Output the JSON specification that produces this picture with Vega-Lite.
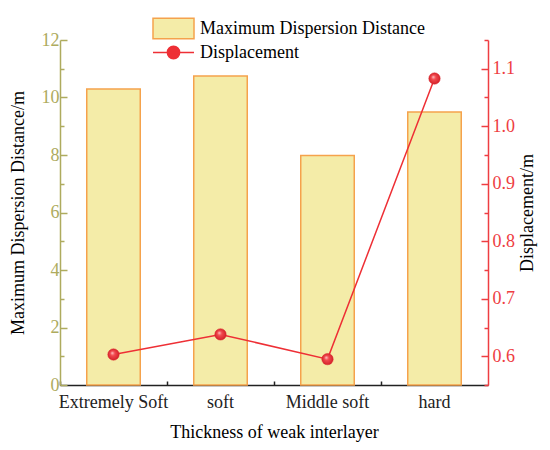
{
  "$schema": "https://vega.github.io/schema/vega-lite/v6.json",
  "width": 428,
  "height": 345,
  "autosize": "none",
  "padding": {"left": 60, "top": 40, "right": 62, "bottom": 65},
  "background": "white",
  "data": {
    "values": [
      {"thickness": "Extremely Soft", "distance": 10.3, "displacement": 0.603},
      {"thickness": "soft", "distance": 10.75, "displacement": 0.638},
      {"thickness": "Middle soft", "distance": 7.98, "displacement": 0.595},
      {"thickness": "hard", "distance": 9.5, "displacement": 1.083}
    ]
  },
  "layer": [
    {
      "mark": {"type": "bar", "width": {"band": 0.5}, "stroke": "#f5a24c", "strokeWidth": 1.5},
      "encoding": {
        "x": {
          "field": "thickness",
          "type": "nominal",
          "sort": null,
          "scale": {"paddingInner": 0, "paddingOuter": 0},
          "axis": {
            "orient": "bottom",
            "title": "Thickness of weak interlayer",
            "titlePadding": 12,
            "labelAngle": 0,
            "bandPosition": 0.5,
            "tickSize": -7,
            "labelPadding": 15,
            "domainColor": "#222222",
            "domainWidth": 1.5,
            "tickColor": "#222222",
            "tickWidth": 1.5
          }
        },
        "y": {
          "field": "distance",
          "type": "quantitative",
          "scale": {"domain": [0, 12], "nice": false},
          "axis": {
            "title": "Maximum Dispersion Distance/m",
            "values": [0, 1, 2, 3, 4, 5, 6, 7, 8, 9, 10, 11, 12],
            "labelExpr": "datum.value % 2 == 0 ? datum.label : ''",
            "tickSize": {"condition": {"test": "datum.value % 2 == 1", "value": -4}, "value": -7},
            "labelPadding": 8,
            "domainColor": "#aeab5e",
            "domainWidth": 1.5,
            "tickColor": "#aeab5e",
            "tickWidth": 1.5,
            "labelColor": "#aeab5e",
            "titlePadding": 14
          }
        },
        "fill": {
          "datum": "Maximum Dispersion Distance",
          "type": "nominal",
          "scale": {"range": ["#f4eca8"]},
          "legend": {
            "orient": "none",
            "legendX": 92,
            "legendY": -33,
            "padding": 0,
            "title": null,
            "labelLimit": 0,
            "symbolType": "M-1,-0.5H1V0.5H-1Z",
            "symbolSize": 1681,
            "symbolStrokeColor": "#f5a24c",
            "symbolStrokeWidth": 1.5,
            "symbolOpacity": 1,
            "labelOffset": 5
          }
        }
      }
    },
    {
      "mark": {"type": "line", "strokeWidth": 1.5, "color": "#ee2f35"},
      "encoding": {
        "x": {
          "field": "thickness",
          "type": "nominal",
          "sort": null,
          "scale": {"paddingInner": 0, "paddingOuter": 0},
          "axis": {
            "orient": "bottom",
            "title": null,
            "labels": false,
            "domain": false,
            "bandPosition": 0,
            "tickSize": -4,
            "tickColor": "#222222",
            "tickWidth": 1.5
          }
        },
        "y": {
          "field": "displacement",
          "type": "quantitative",
          "scale": {"domain": [0.55, 1.15], "nice": false, "zero": false},
          "axis": {
            "orient": "right",
            "title": "Displacement/m",
            "titleAngle": 270,
            "titleColor": "#000000",
            "values": [0.55, 0.6, 0.65, 0.7, 0.75, 0.8, 0.85, 0.9, 0.95, 1.0, 1.05, 1.1, 1.15],
            "labelExpr": "round(datum.value * 20) % 2 == 0 ? format(datum.value, '.1f') : ''",
            "tickSize": {"condition": {"test": "round(datum.value * 20) % 2 == 1", "value": -4}, "value": -7},
            "labelPadding": 11,
            "domainColor": "#ee3d42",
            "domainWidth": 1.5,
            "tickColor": "#ee3d42",
            "tickWidth": 1.5,
            "labelColor": "#ee3d42",
            "titlePadding": 22
          }
        },
        "stroke": {
          "datum": "Displacement",
          "type": "nominal",
          "scale": {"range": ["#ee2f35"]},
          "legend": {
            "orient": "none",
            "legendX": 92,
            "legendY": -9,
            "padding": 0,
            "title": null,
            "labelLimit": 0,
            "symbolType": "M-1,0H1M-0.3,0A0.3,0.3 0 1,0 0.3,0A0.3,0.3 0 1,0 -0.3,0",
            "symbolSize": 1681,
            "symbolFillColor": "#ee2f35",
            "symbolStrokeColor": "#ee2f35",
            "symbolStrokeWidth": 1.5,
            "symbolOpacity": 1,
            "labelOffset": 5
          }
        }
      }
    },
    {
      "mark": {
        "type": "point",
        "filled": true,
        "size": 130,
        "opacity": 1,
        "stroke": "#d8232b",
        "strokeWidth": 0.5,
        "fill": {
          "gradient": "radial",
          "x1": 0.38, "y1": 0.35, "r1": 0,
          "x2": 0.5, "y2": 0.5, "r2": 0.55,
          "stops": [
            {"offset": 0, "color": "#ffd0d0"},
            {"offset": 0.35, "color": "#f24a4f"},
            {"offset": 1, "color": "#d01e26"}
          ]
        }
      },
      "encoding": {
        "x": {"field": "thickness", "type": "nominal", "sort": null, "scale": {"paddingInner": 0, "paddingOuter": 0}, "axis": null},
        "y": {"field": "displacement", "type": "quantitative", "scale": {"domain": [0.55, 1.15], "nice": false, "zero": false}, "axis": null}
      }
    }
  ],
  "resolve": {"scale": {"y": "independent", "fill": "independent", "stroke": "independent"}, "axis": {"x": "independent"}},
  "config": {
    "font": "Liberation Serif",
    "view": {"stroke": null},
    "axis": {
      "grid": false,
      "labelFontSize": 18,
      "titleFontSize": 18,
      "titleFontWeight": "normal",
      "labelColor": "#222222",
      "titleColor": "#000000",
      "labelFont": "Liberation Serif",
      "titleFont": "Liberation Serif"
    },
    "legend": {"labelFontSize": 18, "labelFont": "Liberation Serif", "labelColor": "#000000"}
  }
}
